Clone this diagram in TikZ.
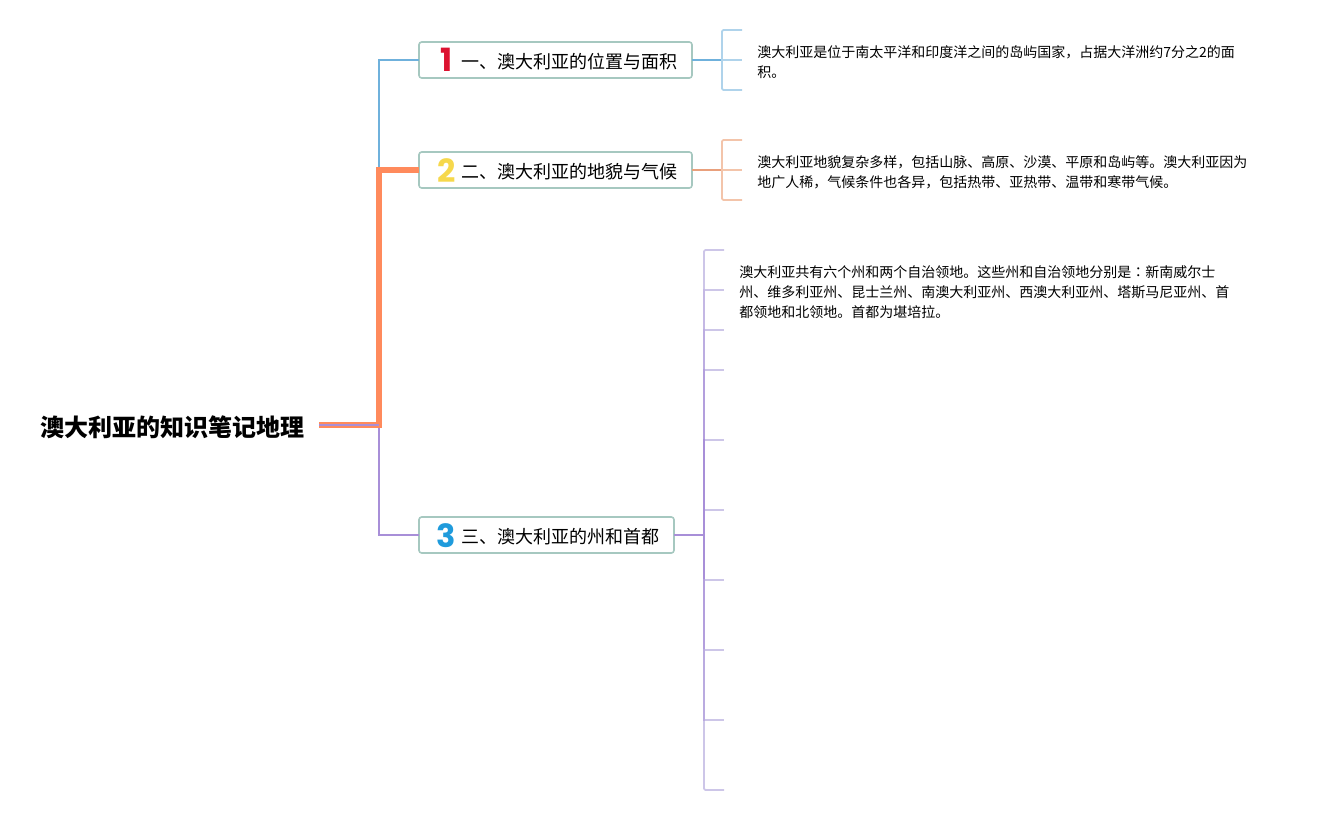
\documentclass[tikz,border=0pt]{standalone}
\usepackage{fontspec}
\setmainfont{Noto Sans CJK SC}
\newfontfamily\digitfont{Poppins}
\newfontfamily\cjktc{Noto Sans CJK TC}
\definecolor{cblue}{HTML}{6FB1DC}
\definecolor{cblueL}{HTML}{AFD3EB}
\definecolor{corange}{HTML}{FF8A5C}
\definecolor{corangeD}{HTML}{E9A07C}
\definecolor{corangeL}{HTML}{F3C4AA}
\definecolor{cpurple}{HTML}{A88FD8}
\definecolor{cpurpleL}{HTML}{CDC6E8}
\definecolor{cbox}{HTML}{A6C8C0}
\definecolor{numred}{HTML}{DC1230}
\definecolor{numyellow}{HTML}{F6D84C}
\definecolor{numblue}{HTML}{1F9BDC}
\tikzset{
  x=0.75pt,y=-0.75pt,
  rootnode/.style={anchor=west,inner sep=0pt,font=\fontsize{18}{22}\selectfont\bfseries},
  branchbox/.style={draw=cbox,line width=1.2pt,rounded corners=2pt,fill=white,anchor=north west,inner sep=0pt,outer sep=0pt,minimum height=27pt},
  branchtext/.style={anchor=west,inner sep=0pt,font=\fontsize{13.5}{16}\selectfont},
  numtext/.style={anchor=center,inner sep=0pt,font=\fontsize{24}{26}\selectfont\digitfont\bfseries},
  bodytext/.style={anchor=west,inner sep=0pt,align=left,font=\fontsize{10.5}{15}\selectfont},
  conn/.style={line width=1.5pt},
  stub/.style={line width=1.4pt},
}
\begin{document}
\begin{tikzpicture}
\useasboundingbox (0,0) rectangle (1317,815);
% root
\node[rootnode] (root) at (40,427) {澳大利亚的知识笔记地理};
\coordinate (rootend) at (319,425);
\coordinate (trunk) at (379,425);
% branch boxes
\node[branchbox,minimum width=204.75pt] (b1) at (419,42) {};
\node[branchbox,minimum width=204.75pt] (b2) at (419,152) {};
\node[branchbox,minimum width=191.25pt] (b3) at (419,517) {};
\node[numtext,text=numred] (n1) at (447,60) {1};
\node[numtext,text=numyellow] (n2) at (446.5,171) {2};
\node[numtext,text=numblue] (n3) at (446.5,536) {3};
\node[branchtext] (t1) at (461,62) {一、澳大利亚的位置与面积};
\node[branchtext] (t2) at (461,172) {二、澳大利亚的地貌与气候};
\node[branchtext] (t3) at (461,537) {三、澳大利亚的州和首都};
% main connectors
\draw[conn,cblue] (trunk) -- (379,60) -- (b1.west |- 0,60);
\draw[conn,cpurple] (trunk) -- (379,535) -- (b3.west |- 0,535);
\draw[line width=3.9pt,corange,line join=miter] (rootend) -- (trunk) -- (379,170) -- (b2.west |- 0,170);
\draw[line width=1.5pt,cpurple] (rootend) -- (trunk);
% detail 1
\coordinate (j1) at (722,60);
\draw[conn,cblue] (b1.east |- j1) -- (j1);
\foreach \y/\n in {30/a,60/b,90/c} \coordinate (s1\n) at (742,\y);
\draw[stub,cblueL,rounded corners=1pt] (s1a) -- (j1 |- s1a) -- (j1 |- s1c) -- (s1c);
\draw[stub,cblueL] (j1) -- (s1b);
\node[bodytext] (d1) at (757,62) {澳大利亚是位于南太平洋和印度洋之间的岛屿国家，占据大洋洲约7分之2的面\\积。};
% detail 2
\coordinate (j2) at (722,170);
\draw[conn,corangeD] (b2.east |- j2) -- (j2);
\foreach \y/\n in {140/a,170/b,200/c} \coordinate (s2\n) at (742,\y);
\draw[stub,corangeL,rounded corners=1pt] (s2a) -- (j2 |- s2a) -- (j2 |- s2c) -- (s2c);
\draw[stub,corangeL] (j2) -- (s2b);
\node[bodytext] (d2) at (757,172) {澳大利亚地貌复杂多样，包括山脉、高原、沙漠、平原和岛屿等。澳大利亚因为\\地广人稀，气候条件也各异，包括热带、亚热带、温带和寒带气候。};
% detail 3
\coordinate (j3) at (704,535);
\draw[conn,cpurple] (b3.east |- j3) -- (j3);
\foreach \y in {250,290,330,370,440,510,580,650,720,790} {
  \coordinate (s3\y) at (724,\y);
  \coordinate (v3\y) at (704,\y);
}
\foreach \y in {290,330,370,440,510,580,650,720} \draw[stub,cpurpleL] (v3\y) -- (s3\y);
\draw[stub,cpurpleL,rounded corners=1pt] (s3250) -- (v3250) -- (v3290);
\draw[stub,cpurpleL,rounded corners=1pt] (v3720) -- (v3790) -- (s3790);
\foreach \a/\b/\m in {290/330/25,330/370/45,370/440/70,440/510/100,510/580/100,580/650/70,650/720/50}
  \draw[stub,cpurple!\m!cpurpleL,line cap=rect] (v3\a) -- (v3\b);
\node[bodytext] (d3) at (739,292) {澳大利亚共有六个州和两个自治领地。这些州和自治领地分别是{\cjktc ：}新南威尔士\\州、维多利亚州、昆士兰州、南澳大利亚州、西澳大利亚州、塔斯马尼亚州、首\\都领地和北领地。首都为堪培拉。};
\end{tikzpicture}
\end{document}
